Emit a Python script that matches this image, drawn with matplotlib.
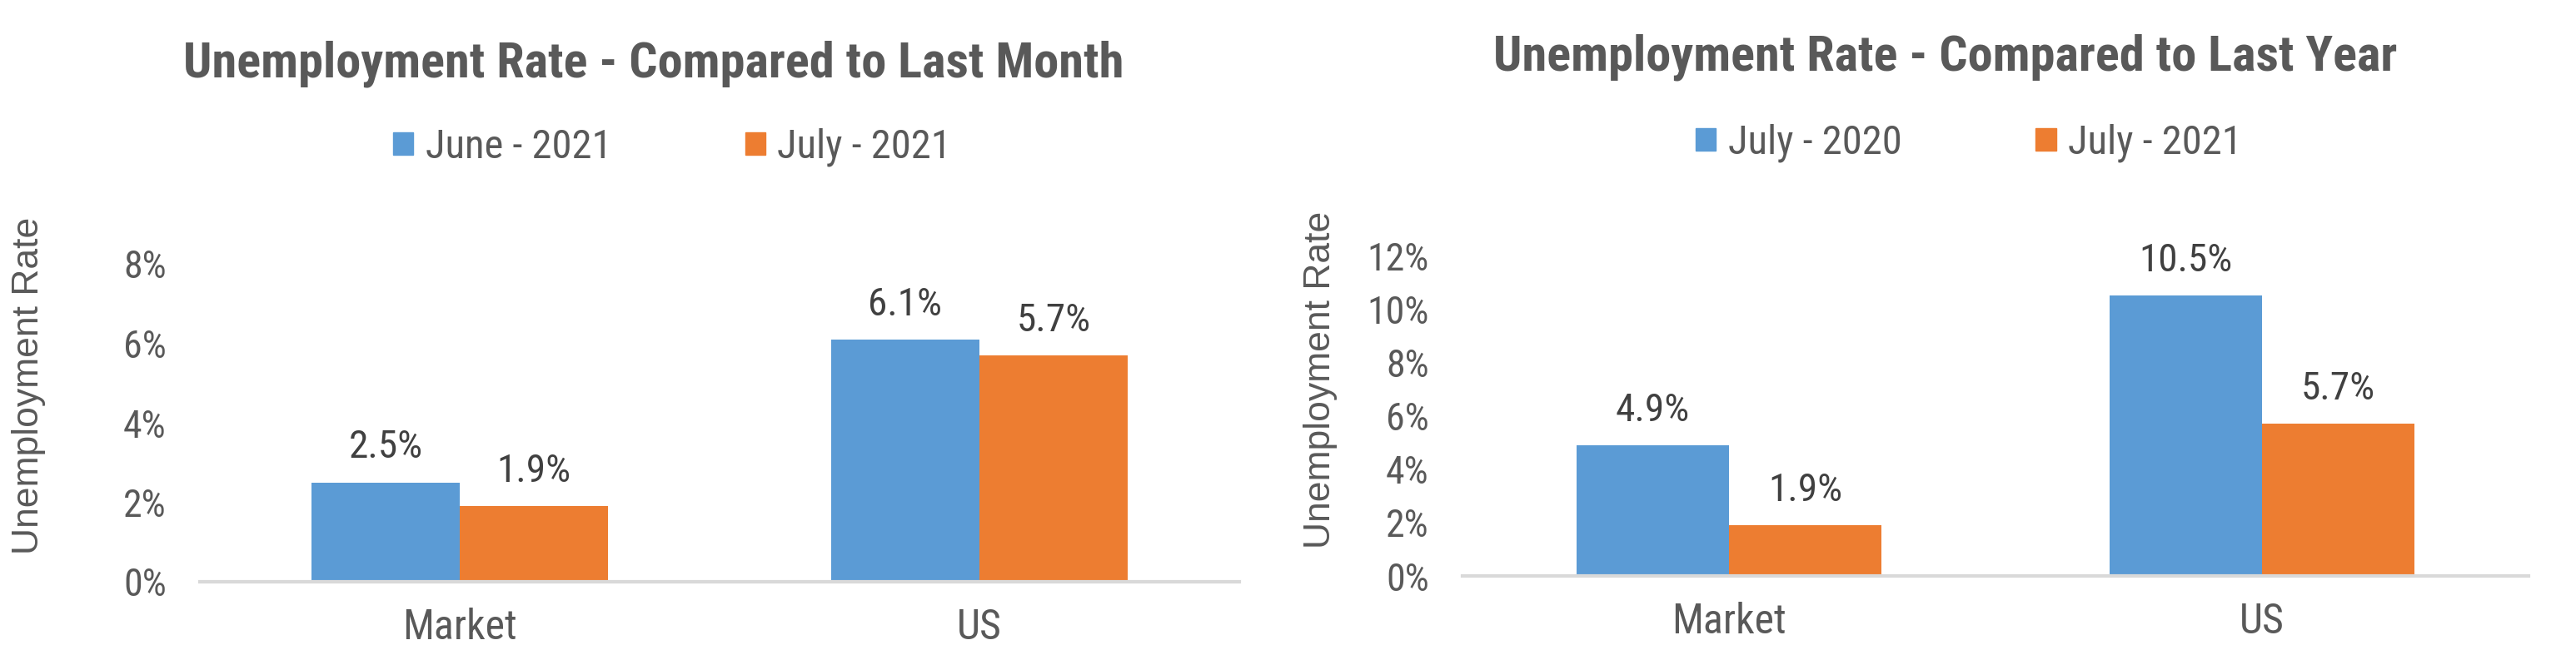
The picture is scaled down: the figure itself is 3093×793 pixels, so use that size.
import matplotlib
matplotlib.use("Agg")
import matplotlib.pyplot as plt
from matplotlib.patches import Patch
from matplotlib import font_manager

# ---- data ----
categories = ["Market", "US"]
month_series = ["June - 2021", "July - 2021"]
month_values_prev = [2.5, 6.1]
month_values_curr = [1.9, 5.7]
year_series = ["July - 2020", "July - 2021"]
year_values_prev = [4.9, 10.5]
year_values_curr = [1.9, 5.7]
left_title = "Unemployment Rate - Compared to Last Month"
right_title = "Unemployment Rate - Compared to Last Year"
y_label = "Unemployment Rate"
left_ticks = [0, 2, 4, 6, 8]
right_ticks = [0, 2, 4, 6, 8, 10, 12]

names = {f.name for f in font_manager.fontManager.ttflist}
NARROW = "Liberation Sans"
for cand in ["Roboto Condensed", "Liberation Sans Narrow", "Open Sans Condensed",
             "DejaVu Sans Condensed", "Noto Sans Condensed"]:
    if cand in names:
        NARROW = cand
        break
WIDE = "Liberation Sans"

BLUE = "#5B9BD5"
ORANGE = "#ED7D31"
TXT = "#595959"
DLBL = "#404040"

W, H = 3093, 793
fig = plt.figure(figsize=(W / 100, H / 100), dpi=100)


def fx(px):
    return px / W


def fy(py):
    return 1 - py / H


def panel(x0, x1, ybase, ytop, ymax, ticks, prev, curr, series, title,
          title_xy, legend_xy, ylabel_xy):
    ax = fig.add_axes([fx(x0), fy(ybase), fx(x1) - fx(x0), fy(ytop) - fy(ybase)])
    bw = 0.2857
    xs = list(range(len(categories)))
    b1 = ax.bar([x - bw / 2 for x in xs], prev, width=bw, color=BLUE, zorder=2)
    b2 = ax.bar([x + bw / 2 for x in xs], curr, width=bw, color=ORANGE, zorder=2)
    ax.set_xlim(-0.5, len(categories) - 0.5)
    ax.set_ylim(0, ymax)
    ax.set_yticks(ticks)
    ax.set_yticklabels([f"{t}%" for t in ticks], fontfamily=NARROW, fontsize=33, color=TXT)
    ax.set_xticks(xs)
    ax.set_xticklabels(categories, fontfamily=NARROW, fontsize=36, color=TXT)
    ax.tick_params(axis="y", length=0, pad=29)
    ax.tick_params(axis="x", length=0, pad=22)
    for s in ["top", "right", "left"]:
        ax.spines[s].set_visible(False)
    ax.spines["bottom"].set_color("#D9D9D9")
    ax.spines["bottom"].set_linewidth(3)
    ax.spines["bottom"].set_zorder(3)
    for bars, vals in ((b1, prev), (b2, curr)):
        for r, v in zip(bars, vals):
            ax.annotate(f"{v}%", (r.get_x() + r.get_width() / 2, v),
                        xytext=(0, 21), textcoords="offset points",
                        ha="center", va="baseline", fontfamily=NARROW,
                        fontsize=34, color=DLBL)
    fig.text(fx(title_xy[0]), fy(title_xy[1]), title, ha="center", va="center",
             fontfamily=NARROW, fontweight="bold", fontsize=43.5, color=TXT)
    fig.text(fx(ylabel_xy[0]), fy(ylabel_xy[1]), y_label, ha="center", va="center",
             rotation=90, fontfamily=WIDE, fontsize=32, color=TXT)
    handles = [Patch(color=BLUE), Patch(color=ORANGE)]
    fig.legend(handles, series, loc="center",
               bbox_to_anchor=(fx(legend_xy[0]), fy(legend_xy[1])),
               ncol=2, frameon=False, handlelength=0.5, handleheight=0.5,
               handletextpad=0.3, columnspacing=3.3,
               prop={"family": NARROW, "size": 35}, labelcolor=TXT)
    return ax


panel(240, 1488, 699, 317, 8, left_ticks, month_values_prev, month_values_curr,
      month_series, left_title, (785, 77), (807, 177), (35, 463))
panel(1756, 3036, 692, 307, 12, right_ticks, year_values_prev, year_values_curr,
      year_series, right_title, (2336, 69), (2364, 172), (1586, 456))

fig.savefig("out.png", dpi=100, facecolor="white")
